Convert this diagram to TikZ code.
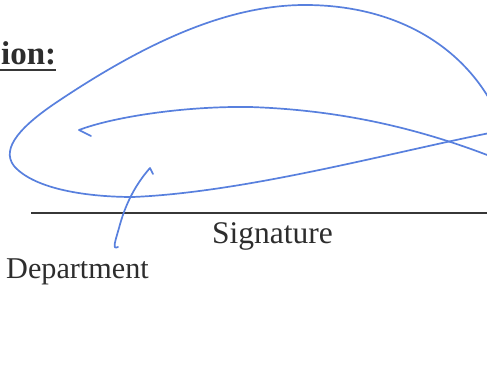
\documentclass[tikz,border=0pt]{standalone}
\usepackage{fontspec}
\setmainfont{Liberation Serif}
\usepackage{tikz}
\tikzset{ink/.style={draw=c_ink, line width=1.7pt, line cap=round, line join=round},
label-text/.style={inner sep=0pt, text=c_text, font=\fontsize{31}{31}\selectfont},
rule/.style={draw=c_rule, line width=2.4pt}}
\definecolor{c_ink}{RGB}{88,128,222}
\definecolor{c_text}{RGB}{45,45,45}
\definecolor{c_rule}{RGB}{55,55,55}

\begin{document}
\begin{tikzpicture}[x=1pt, y=-1pt]
\useasboundingbox (0,0) rectangle (487,366);
\clip (0,0) rectangle (487,366);
\fill[white] (0,0) rectangle (487,366);
% heading and signature line
\node (head) [label-text, anchor=base west, font=\bfseries\fontsize{33}{33}\selectfont] at (1,65) {ion:};
\draw [rule, line width=2pt] (0,70) -- (56,70);
\coordinate (rule-a) at (31,213);
\coordinate (rule-b) at (495,213);
\draw [rule] (rule-a) -- (rule-b);
\node (sign) [label-text, anchor=base west, font=\fontsize{31.5}{31.5}\selectfont] at (212,243) {Signature};
\node (dept) [label-text, anchor=base west, font=\fontsize{30.2}{30.2}\selectfont] at (6,278) {Department};
% signature strokes
\draw [ink] (500,120) .. controls (470,50) and (400,5) .. (305,5)
  .. controls (230,5) and (150,40) .. (60,100)
  .. controls (22,125) and (0,148) .. (14,166)
  .. controls (35,190) and (90,197) .. (133,197)
  .. controls (250,192) and (400,150) .. (500,131);
\draw [ink] (91,136) -- (79,130)
  .. controls (110,118) and (180,106) .. (250,107)
  .. controls (340,110) and (420,128) .. (500,160);
\draw [ink] (153,174) -- (150,168)
  .. controls (135,185) and (125,205) .. (119,228)
  .. controls (115,242) and (112,250) .. (118,247);
\end{tikzpicture}
\end{document}
